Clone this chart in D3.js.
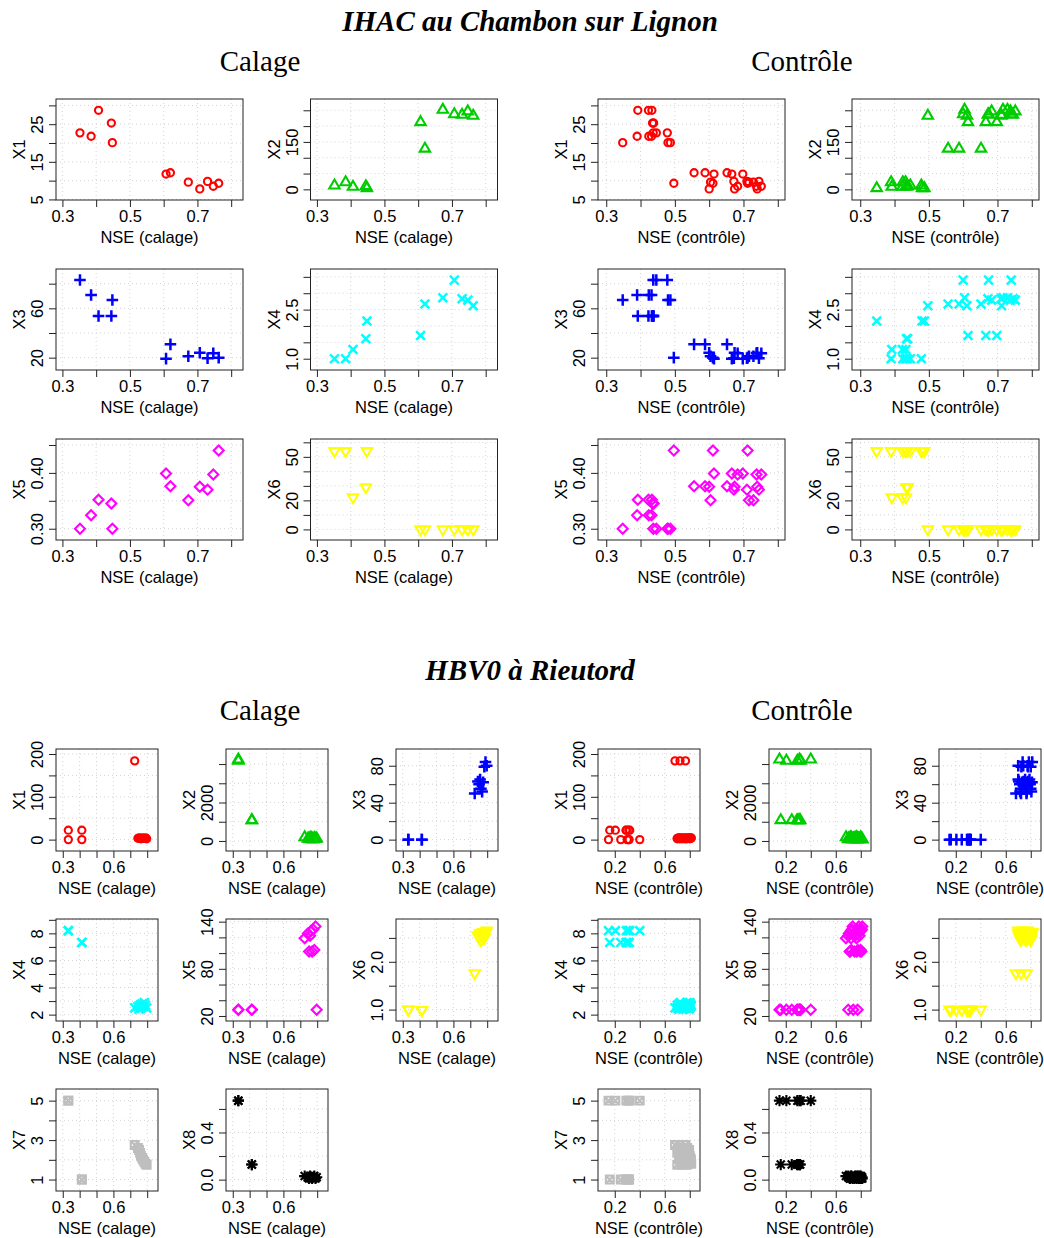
<!DOCTYPE html>
<html><head><meta charset="utf-8">
<script src="https://cdn.jsdelivr.net/npm/d3@7"></script>
<style>body{margin:0;background:#fff}svg{display:block}</style>
</head><body>
<script>
// ---------------- DATA : IHAC au Chambon sur Lignon ----------------
const ihacCalNSE = [0.352, 0.385, 0.407, 0.445, 0.448, 0.607, 0.620, 0.673, 0.707, 0.730, 0.747, 0.763];
const ihacCalX1 = [22.7, 21.8, 28.7, 25.3, 20.1, 11.75, 12.1, 9.6, 7.8, 9.8, 8.5, 9.3];
const ihacCalX2 = [12.6, 23, 8.4, 10.5, 4.2, 213, 129, 252, 238, 236, 247, 233];
const ihacCalX3 = [83, 70.8, 53.8, 53.8, 66.8, 19.2, 30.8, 21.1, 24, 19.5, 23.5, 20];
const ihacCalX4 = [1.0, 1.0, 1.28, 1.61, 2.15, 1.71, 2.67, 2.86, 3.4, 2.83, 2.79, 2.62];
const ihacCalX5 = [0.30, 0.324, 0.352, 0.345, 0.30, 0.399, 0.376, 0.351, 0.375, 0.370, 0.397, 0.440];
const ihacCalX6 = [54, 54, 22, 29, 54, 0, 0, 0, 0, 0, 0, 0];

const ihacCtrlNSE = [0.437,0.446,0.478, 0.390,0.424,0.432, 0.392,0.423,0.433, 0.435,0.437,0.438,
  0.348,0.480,0.487, 0.614,0.666,0.698, 0.556,0.588,0.652, 0.604,0.716,0.729,
  0.600,0.674,0.740, 0.672,0.710,0.745, 0.683,0.738,0.752, 0.497,0.611,0.712];
const ihacCtrlX1 = [22.7,22.7,22.7, 21.8,21.8,21.8, 28.7,28.7,28.7, 25.3,25.3,25.3,
  20.1,20.1,20.1, 11.75,11.75,11.75, 12.1,12.1,12.1, 9.6,9.6,9.6,
  7.8,7.8,7.8, 9.8,9.8,9.8, 8.5,8.5,8.5, 9.3,9.3,9.3];
const ihacCtrlX2 = [12.6,12.6,12.6, 23,23,23, 8.4,8.4,8.4, 10.5,10.5,10.5,
  4.2,4.2,4.2, 213,213,213, 129,129,129, 252,252,252,
  238,238,238, 236,236,236, 247,247,247, 233,233,233];
const ihacCtrlX3 = [83,83,83, 70.8,70.8,70.8, 53.8,53.8,53.8, 53.8,53.8,53.8,
  66.8,66.8,66.8, 19.2,19.2,19.2, 30.8,30.8,30.8, 21.1,21.1,21.1,
  24,24,24, 19.5,19.5,19.5, 23.5,23.5,23.5, 20,20,20];
const ihacCtrlX4 = [1.0,1.0,1.0, 1.0,1.0,1.0, 1.28,1.28,1.28, 1.61,1.61,1.61,
  2.15,2.15,2.15, 1.71,1.71,1.71, 2.67,2.67,2.67, 2.86,2.86,2.86,
  3.4,3.4,3.4, 2.83,2.83,2.83, 2.79,2.79,2.79, 2.62,2.62,2.62];
const ihacCtrlX5 = [0.30,0.30,0.30, 0.324,0.324,0.324, 0.352,0.352,0.352, 0.345,0.345,0.345,
  0.30,0.30,0.30, 0.399,0.399,0.399, 0.376,0.376,0.376, 0.351,0.351,0.351,
  0.375,0.375,0.375, 0.370,0.370,0.370, 0.397,0.397,0.397, 0.440,0.440,0.440];
const ihacCtrlX6 = [54,54,54, 54,54,54, 22,22,22, 29,29,29,
  54,54,54, 0,0,0, 0,0,0, 0,0,0,
  0,0,0, 0,0,0, 0,0,0, 0,0,0];

// ---------------- DATA : HBV0 à Rieutord ----------------
const hbvCalNSE = [0.333, 0.333, 0.413, 0.413, 0.726, 0.745, 0.752, 0.758, 0.763, 0.770, 0.776, 0.783, 0.790, 0.797];
const hbvCalX1 = [0, 22, 0, 22, 184, 3, 4, 3, 2, 4, 3, 3, 4, 2];
const hbvCalX2 = [4245, 4180, 1088, 1088, 200, 120, 150, 100, 180, 130, 90, 160, 110, 140];
const hbvCalX3 = [0, 0, 0, 0, 50, 63, 60, 65, 55, 52, 62, 79, 84, 80];
const hbvCalX4 = [8.2, 8.2, 7.33, 7.33, 2.5, 2.6, 2.4, 2.7, 2.5, 2.8, 2.6, 2.9, 2.7, 2.5];
const hbvCalX5 = [28, 28, 28, 28, 119, 125, 102, 122, 128, 102, 130, 104, 134, 28];
const hbvCalX6 = [1.0, 1.0, 0.99, 0.99, 1.76, 2.55, 2.5, 2.6, 2.45, 2.55, 2.62, 2.5, 2.6, 2.65];
const hbvCalX7 = [5, 5, 1, 1, 2.75, 2.6, 2.5, 2.35, 2.2, 2.1, 2.0, 1.9, 1.8, 1.75];
const hbvCalX8 = [0.67, 0.67, 0.128, 0.128, 0.03, 0.02, 0.01, 0.03, 0.02, 0.01, 0.02, 0.03, 0.01, 0.02];

const hbvCtrlNSE = [0.150,0.310,0.400, 0.205,0.293,0.320, 0.248,0.300,0.315, 0.160,0.290,0.312,
  0.682,0.722,0.766, 0.705,0.742,0.780, 0.712,0.750,0.795, 0.700,0.755,0.790, 0.720,0.762,0.800,
  0.715,0.768,0.805, 0.730,0.772,0.810, 0.725,0.778,0.800, 0.735,0.785,0.812, 0.700,0.740,0.775];
const hbvCtrlX1 = [0,0,0, 22,22,22, 0,0,0, 22,22,22,
  184,184,184, 3,3,3, 4,4,4, 3,3,3, 2,2,2, 4,4,4, 3,3,3, 3,3,3, 4,4,4, 2,2,2];
const hbvCtrlX2 = [4245,4245,4245, 4180,4180,4180, 1088,1088,1088, 1088,1088,1088,
  200,200,200, 120,120,120, 150,150,150, 100,100,100, 180,180,180, 130,130,130, 90,90,90, 160,160,160, 110,110,110, 140,140,140];
const hbvCtrlX3 = [0,0,0, 0,0,0, 0,0,0, 0,0,0,
  50,50,50, 63,63,63, 60,60,60, 65,65,65, 55,55,55, 52,52,52, 62,62,62, 79,79,79, 84,84,84, 80,80,80];
const hbvCtrlX4 = [8.2,8.2,8.2, 8.2,8.2,8.2, 7.33,7.33,7.33, 7.33,7.33,7.33,
  2.5,2.5,2.5, 2.6,2.6,2.6, 2.4,2.4,2.4, 2.7,2.7,2.7, 2.5,2.5,2.5, 2.8,2.8,2.8, 2.6,2.6,2.6, 2.9,2.9,2.9, 2.7,2.7,2.7, 2.5,2.5,2.5];
const hbvCtrlX5 = [28,28,28, 28,28,28, 28,28,28, 28,28,28,
  119,119,119, 125,125,125, 102,102,102, 122,122,122, 128,128,128, 102,102,102, 130,130,130, 104,104,104, 134,134,134, 28,28,28];
const hbvCtrlX6 = [1.0,1.0,1.0, 1.0,1.0,1.0, 0.99,0.99,0.99, 0.99,0.99,0.99,
  1.76,1.76,1.76, 2.55,2.55,2.55, 2.5,2.5,2.5, 2.6,2.6,2.6, 2.45,2.45,2.45, 2.55,2.55,2.55, 2.62,2.62,2.62, 2.5,2.5,2.5, 2.6,2.6,2.6, 2.65,2.65,2.65];
const hbvCtrlX7 = [5,5,5, 5,5,5, 1,1,1, 1,1,1,
  2.75,2.75,2.75, 2.6,2.6,2.6, 2.5,2.5,2.5, 2.35,2.35,2.35, 2.2,2.2,2.2, 2.1,2.1,2.1, 2.0,2.0,2.0, 1.9,1.9,1.9, 1.8,1.8,1.8, 1.75,1.75,1.75];
const hbvCtrlX8 = [0.67,0.67,0.67, 0.67,0.67,0.67, 0.128,0.128,0.128, 0.128,0.128,0.128,
  0.03,0.03,0.03, 0.02,0.02,0.02, 0.01,0.01,0.01, 0.03,0.03,0.03, 0.02,0.02,0.02, 0.01,0.01,0.01, 0.02,0.02,0.02, 0.03,0.03,0.03, 0.01,0.01,0.01, 0.02,0.02,0.02];

// ---------------- Tick labels ----------------
const ihacYTicks = [[5,10,15,20,25,30],[0,50,100,150,200,250],[20,40,60,80],[1,1.5,2,2.5,3,3.5],[0.30,0.35,0.40,0.45],[0,10,20,30,40,50,60]];
const ihacYLabels = [["5","15","25"],["0","150"],["20","60"],["1.0","2.5"],["0.30","0.40"],["0","20","50"]];
const ihacXTicks = [0.3,0.4,0.5,0.6,0.7,0.8];
const ihacXLabels = ["0.3","0.5","0.7"];
const hbvYTicks = [[0,50,100,150,200],[0,1000,2000,3000,4000],[0,20,40,60,80],[2,3,4,5,6,7,8,9],[20,40,60,80,100,120,140],[1.0,1.5,2.0,2.5],[1,2,3,4,5],[0,0.2,0.4,0.6]];
const hbvYLabels = [["0","100","200"],["0","2000"],["0","40","80"],["2","4","6","8"],["20","80","140"],["1.0","2.0"],["1","3","5"],["0.0","0.4"]];
const hbvCalXTicks = [0.3,0.4,0.5,0.6,0.7,0.8];
const hbvCalXLabels = ["0.3","0.6"];
const hbvCtrlXTicks = [0.2,0.4,0.6,0.8];
const hbvCtrlXLabels = ["0.2","0.6"];

// ---------------- Scale domains ----------------
const ihacYDomains = [[4.85,31.7],[-33.6,285.7],[10,91.9],[0.655,3.74],[0.2798,0.4607],[-7.3,62.3]];
const hbvYDomains = [[-26.6,211.7],[-522,4783],[-12.3,98.1],[1.53,9.06],[13.6,143.4],[0.762,2.895],[0.42,5.59],[-0.0965,0.769]];

const W = 1044, H = 1238;
const colors = ['#ff0000','#00cd00','#0000ff','#00ffff','#ff00ff','#ffff00','#bebebe','#000000'];
const svg = d3.select('body').append('svg').attr('width', W).attr('height', H)
  .attr('font-family', "'Liberation Sans', Arial, Helvetica, sans-serif");
svg.append('rect').attr('width', W).attr('height', H).attr('fill', '#fff');

function marker(sel, pch, color) {
  const sw = 2.1;
  const paths = {
    2: 'M0,-5.8L5.2,3.1L-5.2,3.1Z',
    3: 'M-5.8,0H5.8M0,-5.8V5.8',
    4: 'M-4.4,-4.4L4.4,4.4M-4.4,4.4L4.4,-4.4',
    5: 'M0,-5L5,0L0,5L-5,0Z',
    6: 'M0,5.8L5.2,-3.1L-5.2,-3.1Z',
    7: 'M-3.9,-3.9H3.9V3.9H-3.9ZM-3.9,-3.9L3.9,3.9M-3.9,3.9L3.9,-3.9',
    8: 'M-5.6,0H5.6M0,-5.6V5.6M-4,-4L4,4M-4,4L4,-4'
  };
  if (pch === 1) {
    sel.append('circle').attr('r', 3.6).attr('fill', 'none').attr('stroke', color).attr('stroke-width', 2.1);
  } else {
    sel.append('path').attr('d', paths[pch]).attr('fill', 'none').attr('stroke', color)
      .attr('stroke-width', (pch === 3 || pch === 4) ? 2.5 : sw);
  }
}

let clipId = 0;
function panel(x0, y0, w, h, cfg) {
  const g = svg.append('g').attr('transform', `translate(${x0},${y0})`);
  const xs = d3.scaleLinear().domain(cfg.xd).range([0, w]);
  const ys = d3.scaleLinear().domain(cfg.yd).range([h, 0]);
  const id = 'clip' + (clipId++);
  g.append('clipPath').attr('id', id).append('rect').attr('width', w).attr('height', h);
  // grid
  const grid = g.append('g').attr('stroke', '#d3d3d3').attr('stroke-width', 1).attr('stroke-dasharray', '1,3');
  grid.selectAll('line.gx').data(cfg.xt).join('line').attr('class', 'gx')
    .attr('x1', d => xs(d)).attr('x2', d => xs(d)).attr('y1', 0).attr('y2', h);
  grid.selectAll('line.gy').data(cfg.yt).join('line').attr('class', 'gy')
    .attr('x1', 0).attr('x2', w).attr('y1', d => ys(d)).attr('y2', d => ys(d));
  // points
  const pts = cfg.xs.map((x, i) => ({ x: x, y: cfg.ys[i] }));
  g.append('g').attr('clip-path', `url(#${id})`).selectAll('g.pt').data(pts).join('g').attr('class', 'pt')
    .attr('transform', d => `translate(${xs(d.x)},${ys(d.y)})`)
    .each(function () { marker(d3.select(this), cfg.pch, cfg.color); });
  // axes
  const fmtX = d => { const s = cfg.xfmt(d); return cfg.xl.includes(s) ? s : ''; };
  const fmtY = d => { const s = cfg.yfmt(d); return cfg.yl.includes(s) ? s : ''; };
  const ax = g.append('g').attr('transform', `translate(0,${h})`)
    .call(d3.axisBottom(xs).tickValues(cfg.xt).tickFormat(fmtX).tickSize(7).tickSizeOuter(0));
  ax.select('.domain').remove();
  ax.selectAll('line').attr('stroke', '#222');
  ax.selectAll('text').attr('y', 22).attr('dy', null).attr('font-size', 16.5).attr('fill', '#000')
    .attr('font-family', "'Liberation Sans', Arial, sans-serif");
  const ay = g.append('g')
    .call(d3.axisLeft(ys).tickValues(cfg.yt).tickFormat(fmtY).tickSize(7).tickSizeOuter(0));
  ay.select('.domain').remove();
  ay.selectAll('line').attr('stroke', '#222');
  ay.selectAll('text').attr('x', null).attr('dy', null).attr('text-anchor', 'middle')
    .attr('transform', 'translate(-13,0) rotate(-90)').attr('font-size', 16.5).attr('fill', '#000')
    .attr('font-family', "'Liberation Sans', Arial, sans-serif");
  // box
  g.append('rect').attr('width', w).attr('height', h).attr('fill', 'none').attr('stroke', '#222').attr('stroke-width', 1);
  // titles
  g.append('text').attr('x', w / 2).attr('y', h + 43).attr('text-anchor', 'middle').attr('font-size', 16.5).text(cfg.xTitle);
  g.append('text').attr('transform', `translate(-31,${h / 2}) rotate(-90)`).attr('text-anchor', 'middle')
    .attr('font-size', 16.5).text(cfg.yTitle);
}

function serif(x, y, txt, bold) {
  svg.append('text').attr('x', x).attr('y', y).attr('text-anchor', 'middle')
    .attr('font-family', "'Liberation Serif', 'Times New Roman', serif").attr('font-size', 29)
    .attr('font-weight', bold ? 'bold' : 'normal').attr('font-style', bold ? 'italic' : 'normal').text(txt);
}

// ---------------- IHAC ----------------
serif(530, 31, 'IHAC au Chambon sur Lignon', true);
serif(260, 71, 'Calage', false);
serif(802, 71, 'Contrôle', false);
const ihacCal = [ihacCalX1, ihacCalX2, ihacCalX3, ihacCalX4, ihacCalX5, ihacCalX6];
const ihacCtrl = [ihacCtrlX1, ihacCtrlX2, ihacCtrlX3, ihacCtrlX4, ihacCtrlX5, ihacCtrlX6];
const ihacCols = [56, 310.5, 598, 852];
const ihacRows = [99, 269, 439];
const fx1 = d3.format('.1f');
const ihacYFmt = [d3.format('d'), d3.format('d'), d3.format('d'), d3.format('.1f'), d3.format('.2f'), d3.format('d')];
for (let i = 0; i < 6; i++) {
  const r = Math.floor(i / 2), c = i % 2;
  const base = { yd: ihacYDomains[i], yt: ihacYTicks[i], yl: ihacYLabels[i], yfmt: ihacYFmt[i],
    xt: ihacXTicks, xl: ihacXLabels, xfmt: fx1, pch: i + 1, color: colors[i], yTitle: 'X' + (i + 1) };
  panel(ihacCols[c], ihacRows[r], 187, 101, Object.assign({}, base,
    { xd: [0.281, 0.835], xs: ihacCalNSE, ys: ihacCal[i], xTitle: 'NSE (calage)' }));
  panel(ihacCols[c + 2], ihacRows[r], 187, 101, Object.assign({}, base,
    { xd: [0.276, 0.821], xs: ihacCtrlNSE, ys: ihacCtrl[i], xTitle: 'NSE (contrôle)' }));
}

// ---------------- HBV0 ----------------
serif(530, 680, 'HBV0 à Rieutord', true);
serif(260, 720, 'Calage', false);
serif(802, 720, 'Contrôle', false);
const hbvCal = [hbvCalX1, hbvCalX2, hbvCalX3, hbvCalX4, hbvCalX5, hbvCalX6, hbvCalX7, hbvCalX8];
const hbvCtrl = [hbvCtrlX1, hbvCtrlX2, hbvCtrlX3, hbvCtrlX4, hbvCtrlX5, hbvCtrlX6, hbvCtrlX7, hbvCtrlX8];
const hbvCols = [56, 226, 396, 598, 769, 939];
const hbvRows = [749, 919, 1089];
const hbvYFmt = [d3.format('d'), d3.format('d'), d3.format('d'), d3.format('d'), d3.format('d'), d3.format('.1f'), d3.format('d'), d3.format('.1f')];
for (let i = 0; i < 8; i++) {
  const r = Math.floor(i / 3), c = i % 3;
  const base = { yd: hbvYDomains[i], yt: hbvYTicks[i], yl: hbvYLabels[i], yfmt: hbvYFmt[i],
    pch: i + 1, color: colors[i], yTitle: 'X' + (i + 1) };
  panel(hbvCols[c], hbvRows[r], 102, 102, Object.assign({}, base,
    { xd: [0.260, 0.864], xt: hbvCalXTicks, xl: hbvCalXLabels, xfmt: fx1,
      xs: hbvCalNSE, ys: hbvCal[i], xTitle: 'NSE (calage)' }));
  panel(hbvCols[c + 3], hbvRows[r], 102, 102, Object.assign({}, base,
    { xd: [0.066, 0.882], xt: hbvCtrlXTicks, xl: hbvCtrlXLabels, xfmt: fx1,
      xs: hbvCtrlNSE, ys: hbvCtrl[i], xTitle: 'NSE (contrôle)' }));
}
</script>
</body></html>
